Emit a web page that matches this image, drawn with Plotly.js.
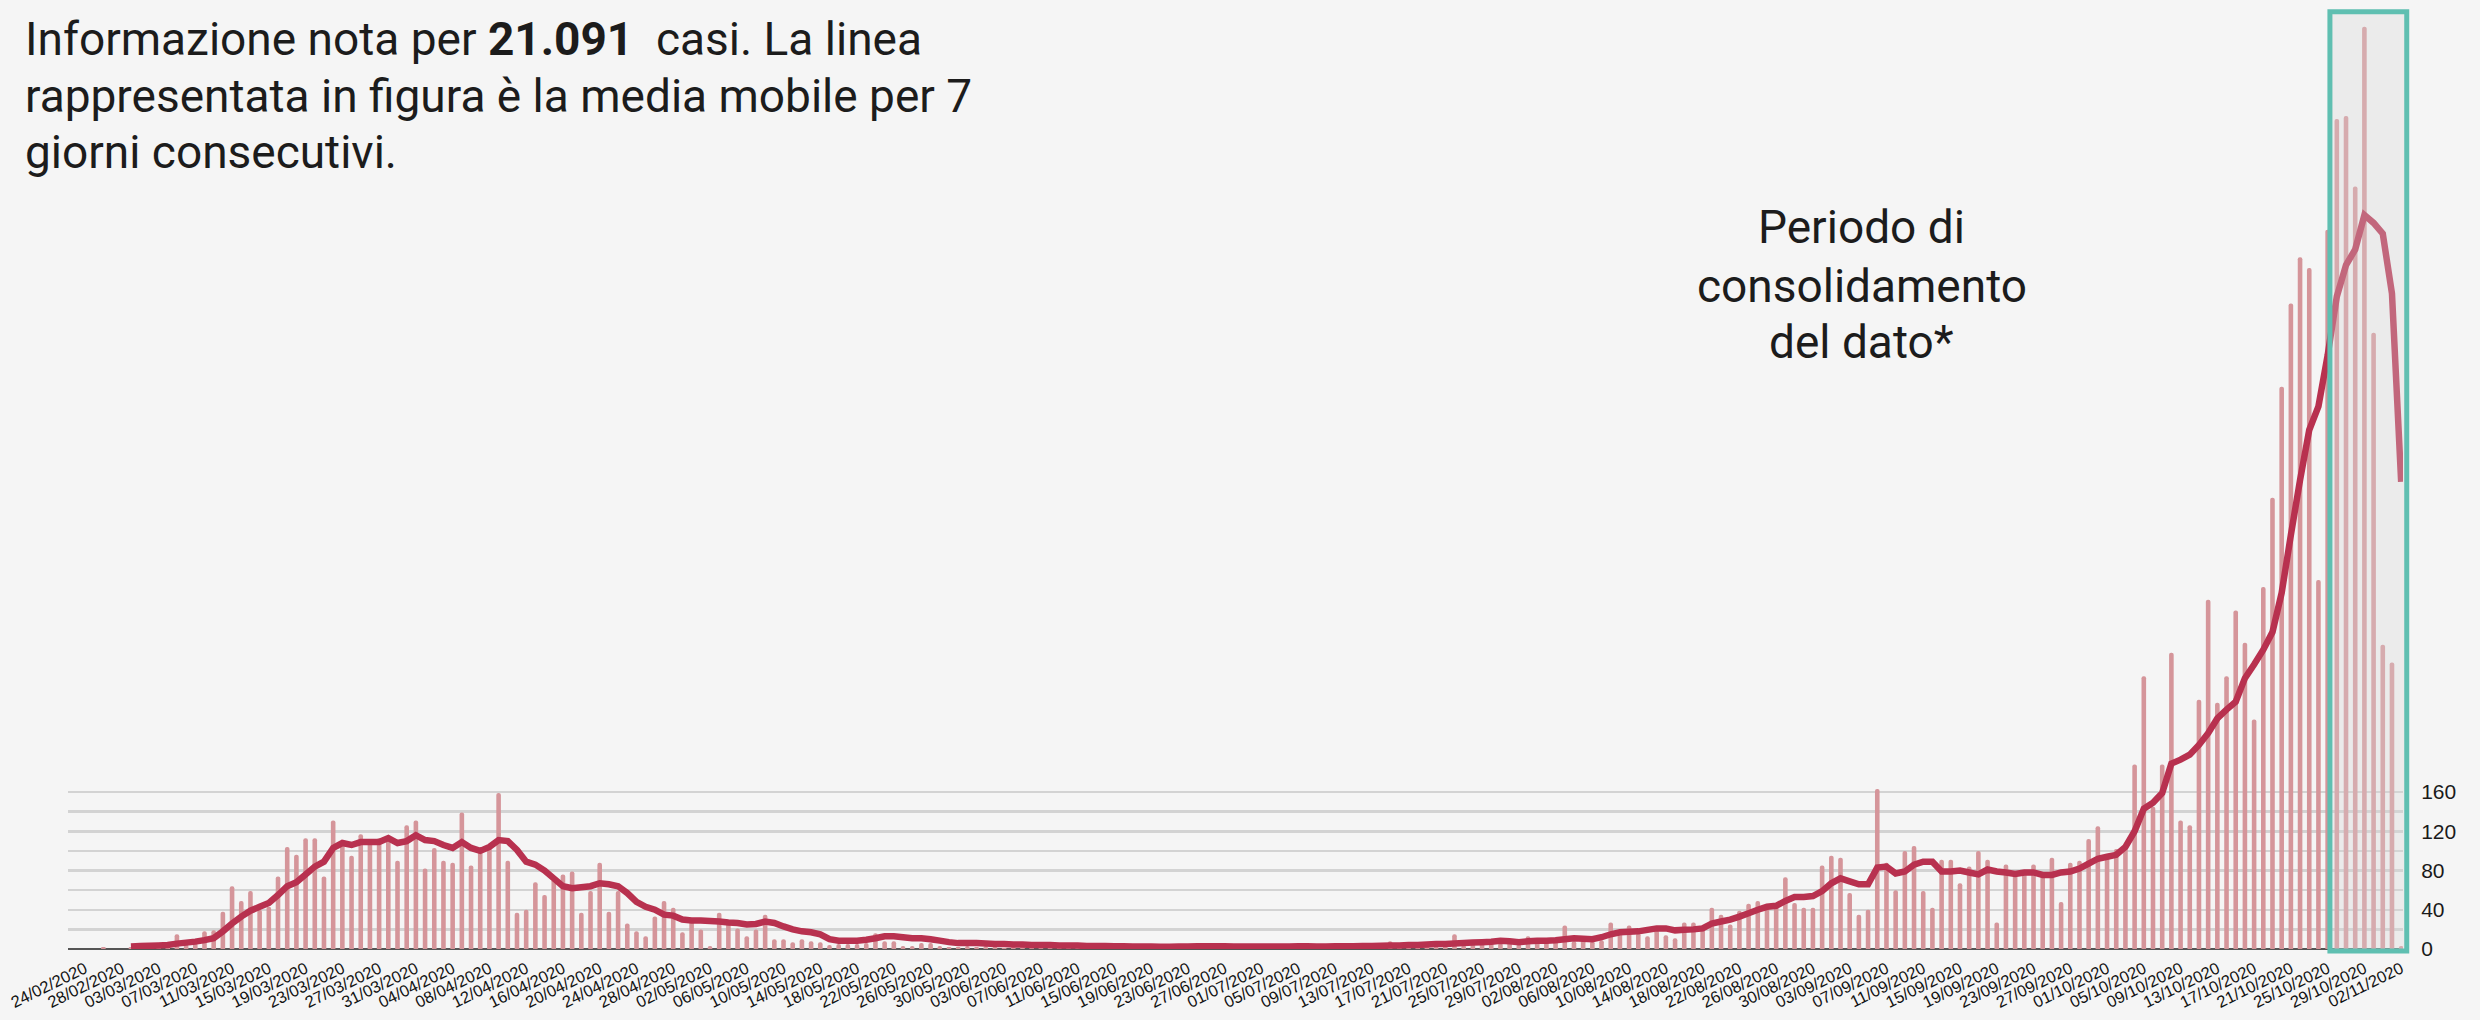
<!DOCTYPE html>
<html>
<head>
<meta charset="utf-8">
<script src="https://cdn.plot.ly/plotly-3.0.1.min.js"></script>
<style>
  html, body { margin: 0; padding: 0; background: #f5f5f5; }
  #chart { width: 2480px; height: 1020px; }
</style>
</head>
<body>
<div id="chart"></div>
<script>
// ---- Data ----
const startDate = '2020-02-24';   // first day of the series (one value per day)

// daily cases (bars), 24/02/2020 .. 02/11/2020
const dailyCases = [
  0,0,2,0,0,2,1,2,2,3,
  15,5,6,18,19,38,64,49,59,40,
  43,74,104,96,113,113,74,131,110,95,
  117,110,113,115,90,126,131,82,103,90,
  88,139,85,100,103,159,90,37,40,68,
  55,71,76,79,37,59,88,38,59,26,
  18,13,33,49,42,17,30,20,3,37,
  27,21,13,20,35,10,10,7,10,8,
  7,4,5,5,5,6,16,8,8,3,
  3,6,6,3,2,2,3,2,3,2,
  1,2,3,1,2,2,1,3,2,1,
  2,2,1,2,3,1,2,1,2,2,
  1,1,2,3,2,1,2,2,1,2,
  1,3,2,2,1,2,2,3,2,1,
  2,3,8,3,2,3,4,3,4,15,
  4,5,6,9,6,7,5,13,7,8,
  8,24,8,9,8,9,27,19,24,16,
  13,19,14,11,27,27,21,42,35,25,
  39,46,49,42,43,73,47,42,42,85,
  95,93,57,35,40,163,88,60,100,105,
  59,42,91,91,67,84,100,91,27,86,
  77,77,86,75,93,48,88,90,112,125,
  96,102,104,188,278,145,188,302,131,126,
  254,356,251,278,345,312,234,369,460,573,
  658,705,694,376,733,846,849,777,940,628,
  310,292,3
];

// 7-day moving average (line)
const movingAvg = [
  null,null,null,null,null,2.5,3,3.2,3.5,4,
  5.5,6.5,7.5,9,11,18,26,33,39,43,
  47,55,64,68,76,84,89,103,108,106,
  109,109,109,113,108,110,116,111,110,106,
  103,109,103,100,104,111,110,101,89,86,
  80,72,64,62,63,64,67,66,64,57,
  48,43,40,35,34,30,29,29,28.5,28,
  27,26.5,25,25.5,28,26.5,23,20,18,17,
  15,10,8.5,8.5,8.5,9.5,11,13,13,12,
  11,11,10,8.5,7,6,6,6,5.5,5,
  5,4.5,4.5,4,4,4,3.5,3.5,3.5,3,
  3,3,2.8,2.7,2.6,2.5,2.5,2.4,2.4,2.5,
  2.6,2.7,2.8,2.8,2.7,2.6,2.6,2.5,2.5,2.5,
  2.6,2.6,2.7,2.7,2.6,2.6,2.7,2.8,2.9,3,
  3,3.2,3.5,3.5,4,4,4.5,5,5,5.5,
  6,6.5,7,7.5,8.5,8,7,7.8,8.5,8.5,
  9,10,11,10.5,10,12,15,17,17.5,18,
  19.5,21,21,19,19.5,20,21,26,28,30,
  33,36.5,40,43,44,49,53,53,54,59,
  67,72,69,66,66,83,84,77,79,86,
  89,89,79,79,80,78,76,81,79,78,
  76.5,78,78,75.5,75.5,78,79,82,87,92,
  94,96,104,120,143,149,159,189,193,198,
  208,220,235,244,252,276,290,305,323,363,
  422,478,529,553,605,665,697,713,748,740,
  729,668,476
];

// y-axis ticks (gridlines every 20, labels every 40)
const yTickVals = [0,20,40,60,80,100,120,140,160];
const yTickText = ['0','','40','','80','','120','','160'];

// texts (one entry per printed line)
const introLines = [
  'Informazione nota per <b>21.091</b>  casi. La linea',
  'rappresentata in figura è la media mobile per 7',
  'giorni consecutivi.'
];
const periodLines = ['Periodo di', 'consolidamento', 'del dato*'];

// ---- Build dates ----
const dates = [];
{
  const t0 = Date.parse(startDate + 'T00:00:00Z');
  for (let i = 0; i < dailyCases.length; i++) {
    dates.push(new Date(t0 + i * 86400000).toISOString().slice(0, 10));
  }
}

const barTrace = {
  type: 'bar',
  x: dates,
  y: dailyCases,
  marker: { color: 'rgb(213,149,154)', line: { width: 0 }, cornerradius: 2 },
  hoverinfo: 'skip'
};

const lineTrace = {
  type: 'scatter',
  mode: 'lines',
  x: dates,
  y: movingAvg,
  connectgaps: false,
  line: { color: '#b8314f', width: 6.5, shape: 'linear', simplify: false },
  hoverinfo: 'skip'
};

const textFont = { family: 'Roboto, sans-serif', size: 46, color: '#1c1c1c' };
const introY = [0.9688, 0.9084, 0.8485];
const periodY = [0.7686, 0.7058, 0.6461];

const annotations = [];
introLines.forEach((t, i) => annotations.push({
  xref: 'paper', yref: 'paper', x: -0.0193, y: introY[i],
  xanchor: 'left', yanchor: 'middle', align: 'left', showarrow: false,
  text: t, font: textFont
}));
periodLines.forEach((t, i) => annotations.push({
  xref: 'paper', yref: 'paper', x: 0.7683, y: periodY[i],
  xanchor: 'center', yanchor: 'middle', align: 'center', showarrow: false,
  text: t, font: textFont
}));

const layout = {
  width: 2480,
  height: 1020,
  paper_bgcolor: '#f5f5f5',
  plot_bgcolor: '#f5f5f5',
  margin: { l: 68, r: 77, t: 10, b: 71 },
  showlegend: false,
  bargap: 0.5,
  hovermode: false,
  xaxis: {
    type: 'date',
    range: ['2020-02-22 03:36', '2020-11-02 04:48'],
    tickmode: 'linear',
    tick0: '2020-02-24',
    dtick: 4 * 86400000,
    tickformat: '%d/%m/%Y',
    tickangle: -26,
    ticks: 'outside',
    ticklen: 3,
    tickcolor: 'rgba(0,0,0,0)',
    showgrid: false,
    zeroline: false,
    showline: false,
    tickfont: { family: 'Liberation Sans, Arial, sans-serif', size: 16.5, color: '#111111' }
  },
  yaxis: {
    range: [0, 957],
    side: 'right',
    tickmode: 'array',
    tickvals: yTickVals,
    ticktext: yTickText,
    ticks: 'outside',
    ticklen: 13,
    tickcolor: 'rgba(0,0,0,0)',
    showgrid: true,
    gridcolor: '#d3d3d3',
    gridwidth: 2.5,
    zeroline: true,
    zerolinecolor: '#555555',
    zerolinewidth: 2,
    showline: false,
    tickfont: { family: 'Liberation Sans, Arial, sans-serif', size: 21, color: '#1a1a1a' }
  },
  shapes: [{
    type: 'rect',
    xref: 'paper', yref: 'paper',
    x0: 0.9687, x1: 1.0016, y0: -0.0021, y1: 0.9982,
    line: { color: '#5fbfb1', width: 5 },
    fillcolor: 'rgba(215,215,215,0.33)',
    layer: 'above'
  }],
  annotations: annotations
};

Plotly.newPlot('chart', [barTrace, lineTrace], layout, { staticPlot: true, displayModeBar: false });
</script>
</body>
</html>
